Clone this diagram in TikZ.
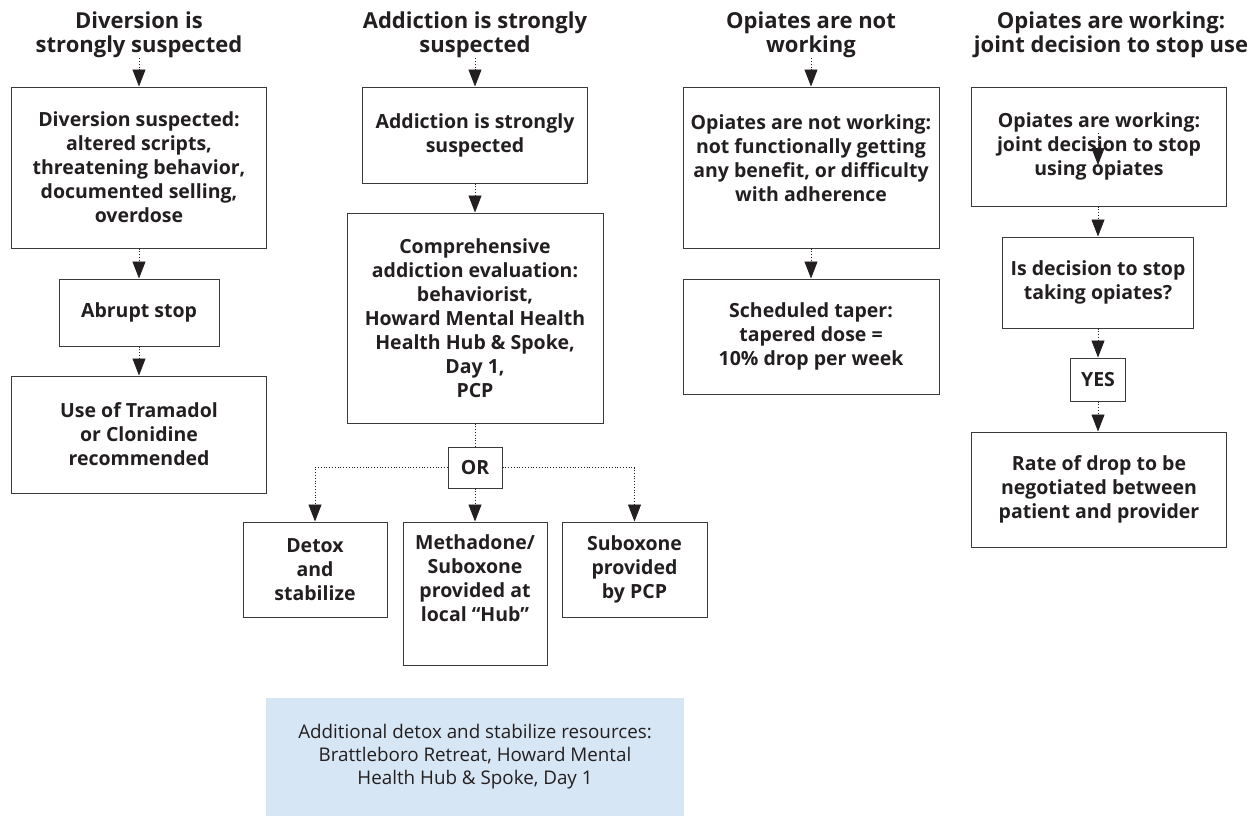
\documentclass[tikz,border=0pt]{standalone}
\usepackage{fontspec}
\setmainfont{Open Sans}
\usetikzlibrary{arrows.meta}
\definecolor{ink}{HTML}{231F20}
\definecolor{edge}{HTML}{3A3A3A}
\definecolor{note}{HTML}{D7E6F4}
\tikzset{
  box/.style={draw=edge, line width=1pt, text=ink, align=center, inner sep=0pt,
    font=\bfseries\fontsize{19.5}{24}\selectfont},
  head/.style={text=ink, align=center, inner sep=0pt,
    font=\bfseries\fontsize{22}{24}\selectfont},
  link/.style={draw=ink, line width=0.8pt, dotted},
  conn/.style={link, -{Triangle[width=13pt,length=17pt]}},
  notebox/.style={fill=note, text=ink, align=center, inner sep=0pt,
    font=\fontsize{18.8}{23}\selectfont},
}
\begin{document}
\begin{tikzpicture}[x=1pt,y=-1pt]
\useasboundingbox (0,0) rectangle (1257,816);

% Column 1: diversion
\node[head] (t1) at (139,35) {Diversion is\\strongly suspected};
\node[box, minimum width=255pt, minimum height=161pt] (b1) at (139,167.5)
  {Diversion suspected:\\altered scripts,\\threatening behavior,\\documented selling,\\overdose};
\node[box, minimum width=160pt, minimum height=67pt] (b2) at (139,312.5) {Abrupt stop};
\node[box, minimum width=255pt, minimum height=117pt] (b3) at (139,434.5)
  {Use of Tramadol\\or Clonidine\\recommended};

% Column 2: addiction
\node[head] (t2) at (475,35) {Addiction is strongly\\suspected};
\node[box, minimum width=225pt, minimum height=96pt] (c1) at (475,135)
  {Addiction is strongly\\suspected};
\node[box, minimum width=256pt, minimum height=210pt] (c2) at (475,318)
  {Comprehensive\\addiction evaluation:\\behaviorist,\\Howard Mental Health\\Health Hub \& Spoke,\\Day 1,\\PCP};
\node[box, minimum width=54pt, minimum height=41pt] (or) at (475,467.5) {OR};
\node[box, minimum width=144pt, minimum height=95pt] (d1) at (315,569.5)
  {Detox\\and\\stabilize};
\node[box, minimum width=144pt, minimum height=143pt] (d2) at (475,593.5)
  {Methadone/\\Suboxone\\provided at\\local “Hub”\\[6pt]};
\node[box, minimum width=145pt, minimum height=95pt] (d3) at (634.5,569.5)
  {Suboxone\\provided\\by PCP};

% Column 3: opiates not working
\node[head] (t3) at (811,35) {Opiates are not\\working};
\node[box, minimum width=256pt, minimum height=161pt] (e1) at (811,167.5)
  {Opiates are not working:\\not functionally getting\\any benefit, or difficulty\\with adherence\\[-6pt]};
\node[box, minimum width=256pt, minimum height=115pt] (e2) at (811,336.5)
  {Scheduled taper:\\tapered dose =\\10\% drop per week};

% Column 4: opiates working
\node[head] (t4) at (1111,35) {Opiates are working:\\joint decision to stop use};
\node[box, minimum width=255pt, minimum height=119pt] (f1) at (1099,146.5)
  {Opiates are working:\\joint decision to stop\\using opiates};
\node[box, minimum width=191pt, minimum height=91pt] (f2) at (1098,282.5)
  {Is decision to stop\\taking opiates?};
\node[box, minimum width=55pt, minimum height=43pt] (yes) at (1098,379.5) {YES};
\node[box, minimum width=255pt, minimum height=115pt] (f3) at (1099,489.5)
  {Rate of drop to be\\negotiated between\\patient and provider};

% Resources note
\node[notebox, minimum width=418pt, minimum height=118pt] (res) at (475,757)
  {Additional detox and stabilize resources:\\Brattleboro Retreat, Howard Mental\\Health Hub \& Spoke, Day 1};

% Connectors
\draw[conn] (t1.south) -- (b1.north);
\draw[conn] (b1) -- (b2);
\draw[conn] (b2) -- (b3);

\draw[conn] (t2.south) -- (c1.north);
\draw[conn] (c1) -- (c2);
\draw[link] (c2) -- (or);
\draw[conn] (or) -- (d2);
\draw[conn] (or.west) -| (d1.north);
\draw[conn] (or.east) -| (d3.north);

\draw[conn] (t3.south) -- (e1.north);
\draw[conn] (e1) -- (e2);

\coordinate (g0) at (1098,133);
\coordinate (g1) at (1098,165);
\draw[conn] (g0) -- (g1);
\draw[conn] (f1.south -| f2.north) -- (f2.north);
\draw[conn] (f2) -- (yes);
\draw[conn] (yes.south) -- (yes.south |- f3.north);
\end{tikzpicture}
\end{document}
